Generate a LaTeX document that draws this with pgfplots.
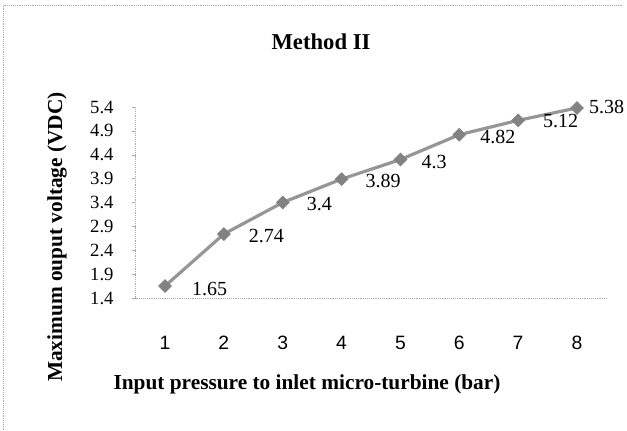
\documentclass[border=0pt]{standalone}
\usepackage{fontspec}
\setmainfont{Liberation Serif}
\newfontfamily\ticksans{Liberation Sans}
\usepackage{pgfplots}
\pgfplotsset{compat=1.18}
\usepackage{pgfplotstable}

\definecolor{linegray}{RGB}{150,150,150}
\definecolor{markgray}{RGB}{130,130,130}
\definecolor{framegray}{RGB}{170,170,170}

% x: pressure (bar), y: voltage, dx/dy: label offsets
\pgfplotstableread{
x y    dx    dy
1 1.65 16.75 -2.25
2 2.74 15.25 -1.5
3 3.4  14.5  -1.5
4 3.89 14.5  -1.5
5 4.3  12.25 -1.5
6 4.82 12.25 -1.5
7 5.12 15.25 -0.5
8 5.38 5.5   0.5
}\methodtwo

\begin{document}
\begin{tikzpicture}
\path[use as bounding box] (0,0) rectangle (470.25pt,322.5pt);
\draw[framegray, densely dotted] (2.25pt,0) -- (2.25pt,318.75pt) -- (467.25pt,318.75pt);

\begin{axis}[
    at={(101.7pt,99pt)}, anchor=south west,
    scale only axis,
    width=353.1pt, height=143.25pt,
    xmin=0.5, xmax=8.5,
    ymin=1.4, ymax=5.4,
    axis x line*=bottom, axis y line*=left,
    axis line style={framegray, densely dotted, -},
    xtick={1,2,3,4,5,6,7,8},
    xticklabels={1,2,3,4,5,6,7,8},
    minor xtick={0.5,1.5,2.5,3.5,4.5,5.5,6.5,7.5,8.5},
    xtick style={draw=none},
    minor tick style={framegray},
    minor tick length=3pt,
    ytick={1.4,1.9,2.4,2.9,3.4,3.9,4.4,4.9,5.4},
    yticklabels={1.4,1.9,2.4,2.9,3.4,3.9,4.4,4.9,5.4},
    ytick style={framegray},
    major tick length=3pt,
    tick align=outside,
    xticklabel style={font=\ticksans\fontsize{14.5}{16}\selectfont, yshift=-22pt},
    yticklabel style={font=\fontsize{14}{16}\selectfont, xshift=-10pt},
    /pgf/number format/assume math mode=true,
    clip=false,
]
\addplot[
    color=linegray, line width=2.4pt,
    mark=square*, mark size=3.4pt,
    mark options={rotate=45, fill=markgray, draw=markgray, line width=0.5pt},
    visualization depends on={\thisrow{dx} \as \dx},
    visualization depends on={\thisrow{dy} \as \dy},
    nodes near coords,
    every node near coord/.append style={
        anchor=west, xshift=\dx pt, yshift=\dy pt,
        font=\fontsize{15}{17}\selectfont, color=black},
] table[x=x, y=y] {\methodtwo};
\end{axis}

\node[font=\bfseries\fontsize{17}{20}\selectfont] at (240.75pt,291pt) {Method II};
\node[font=\bfseries\fontsize{16}{19}\selectfont] at (230.25pt,34.5pt) {Input pressure to inlet micro-turbine (bar)};
\node[font=\bfseries\fontsize{16}{19}\selectfont, rotate=90] at (42.75pt,144.75pt) {Maximum ouput voltage (VDC)};
\end{tikzpicture}
\end{document}
